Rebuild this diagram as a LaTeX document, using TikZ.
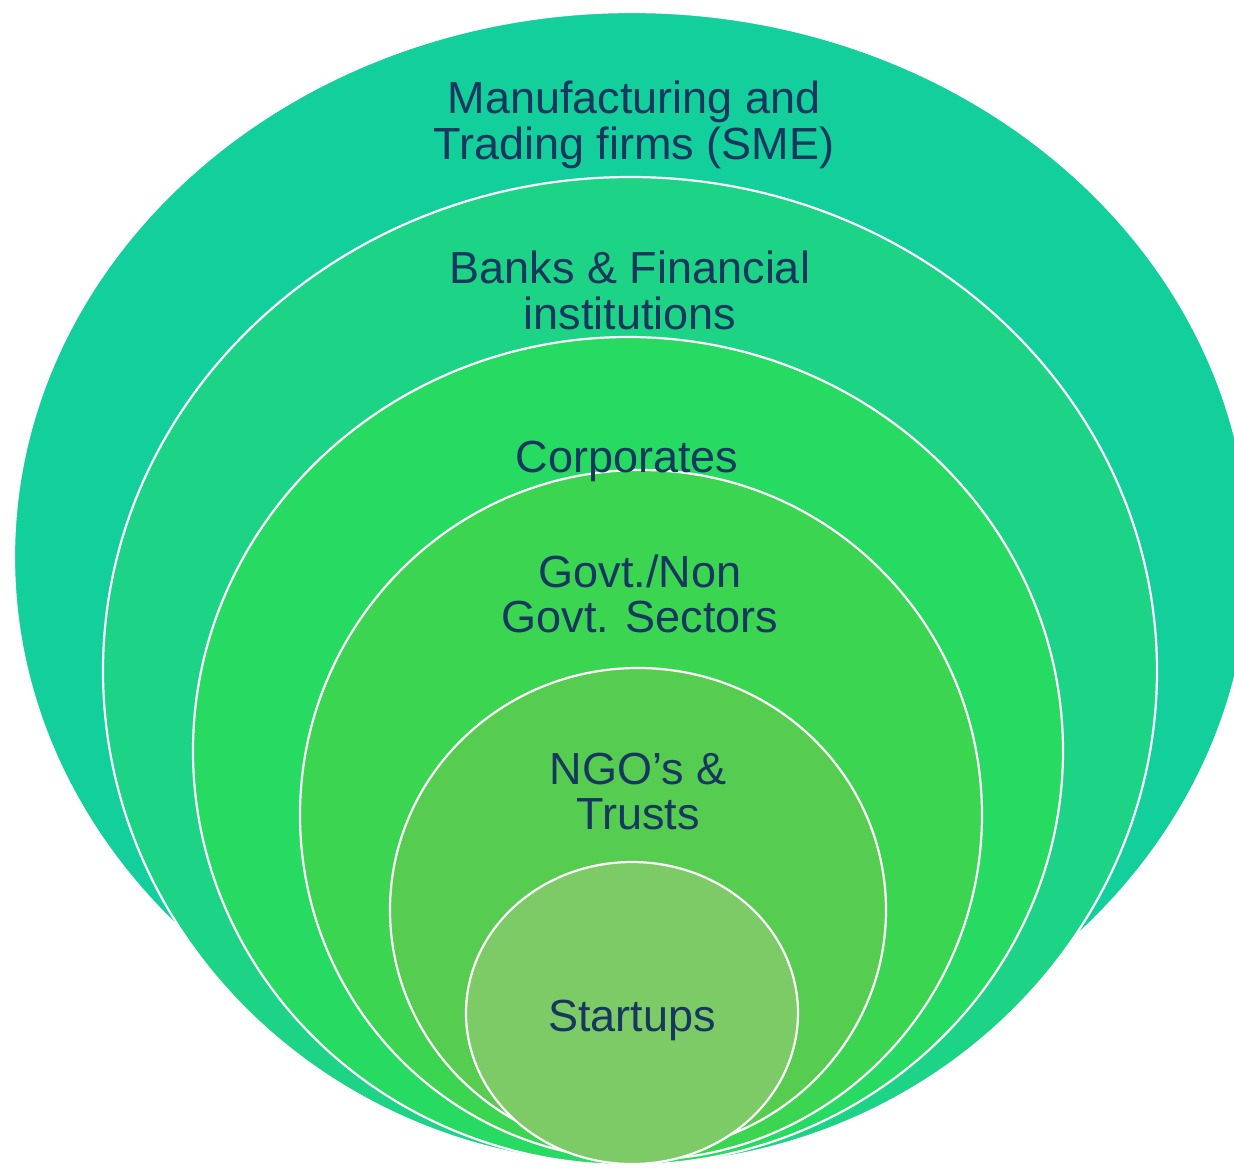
\documentclass[tikz,border=0pt]{standalone}
\usepackage{fontspec}
\setmainfont{Liberation Sans}
\definecolor{cA}{HTML}{12CF9C}
\definecolor{cB}{HTML}{1DD486}
\definecolor{cC}{HTML}{27DA62}
\definecolor{cD}{HTML}{3CD552}
\definecolor{cE}{HTML}{56CD50}
\definecolor{cF}{HTML}{7DCB66}
\definecolor{txt}{HTML}{17375E}
\begin{document}
\begin{tikzpicture}[x=1pt,y=-1pt,
  ring/.style={draw=white,line width=2.2pt},
  lbl/.style={anchor=base,inner sep=0pt,text=txt,font=\fontsize{45}{45}\selectfont}]
\useasboundingbox (0,0) rectangle (1234,1170);
\clip (0,0) rectangle (1234,1170);
\fill[white] (0,0) rectangle (1234,1170);
\path[ring,fill=cA] (632,557) ellipse [x radius=618,y radius=545];
\path[ring,fill=cB] (630,671) ellipse [x radius=527,y radius=494];
\path[ring,fill=cC] (628,751) ellipse [x radius=435,y radius=414];
\path[ring,fill=cD] (641,815) ellipse [x radius=341,y radius=345];
\path[ring,fill=cE] (638,910) ellipse [x radius=248,y radius=242];
\path[ring,fill=cF] (632,1013) ellipse [x radius=166,y radius=151];
\node[lbl] (sme) at (634,113) {\begin{tabular}[t]{@{}c@{}}Manufacturing and\\Trading firms (SME)\end{tabular}};
\node[lbl] (bank) at (630,283) {\begin{tabular}[t]{@{}c@{}}Banks \& Financial\\institutions\end{tabular}};
\node[lbl] (corp) at (627,472) {Corporates};
\node[lbl] (govt) at (640,587) {\begin{tabular}[t]{@{}c@{}}Govt./Non\\Govt. Sectors\end{tabular}};
\node[lbl] (ngo) at (638,784) {\begin{tabular}[t]{@{}c@{}}NGO’s \&\\Trusts\end{tabular}};
\node[lbl] (start) at (632,1031) {Startups};
\end{tikzpicture}
\end{document}
